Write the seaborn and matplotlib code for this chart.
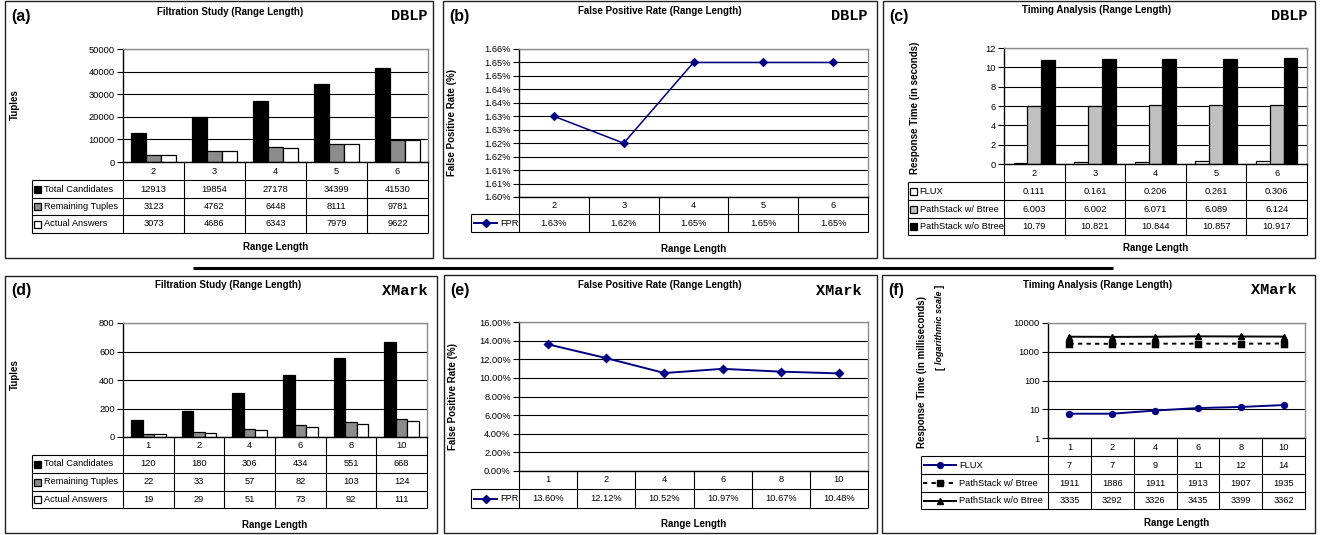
import numpy as np
import pandas as pd
import matplotlib
matplotlib.use("Agg")
import matplotlib.pyplot as plt
from matplotlib.patches import Rectangle
import seaborn as sns
from decimal import Decimal, ROUND_HALF_UP

plt.rcParams["font.family"] = ["Liberation Sans", "DejaVu Sans"]

# ---------------- data ----------------
dblp_lengths = ["2", "3", "4", "5", "6"]
xmark_lengths = ["1", "2", "4", "6", "8", "10"]

filter_series = ["Total Candidates", "Remaining Tuples", "Actual Answers"]
dblp_total = [12913, 19854, 27178, 34399, 41530]
dblp_remaining = [3123, 4762, 6448, 8111, 9781]
dblp_actual = [3073, 4686, 6343, 7979, 9622]

dblp_fpr = [1.63, 1.62, 1.65, 1.65, 1.65]

timing_series = ["FLUX", "PathStack w/ Btree", "PathStack w/o Btree"]
dblp_flux = [0.111, 0.161, 0.206, 0.261, 0.306]
dblp_ps_btree = [6.003, 6.002, 6.071, 6.089, 6.124]
dblp_ps_nobtree = [10.79, 10.821, 10.844, 10.857, 10.917]

xmark_total = [120, 180, 306, 434, 551, 668]
xmark_remaining = [22, 33, 57, 82, 103, 124]
xmark_actual = [19, 29, 51, 73, 92, 111]

xmark_fpr = [13.60, 12.12, 10.52, 10.97, 10.67, 10.48]

xmark_flux = [7, 7, 9, 11, 12, 14]
xmark_ps_btree = [1911, 1886, 1911, 1913, 1907, 1935]
xmark_ps_nobtree = [3335, 3292, 3326, 3435, 3399, 3362]

# ---------------- styling ----------------
W, H = 1320, 535
FS = 6.7          # tick / table text
FS_B = 7          # bold titles and axis labels
NAVY = "#000080"
filter_colors = ["#000000", "#8c8c8c", "#ffffff"]
timing_colors = ["#ffffff", "#c0c0c0", "#000000"]

fig = plt.figure(figsize=(W / 100, H / 100), dpi=100)
fig.patch.set_facecolor("white")


def px_axes(l, t, r, b):
    return fig.add_axes([l / W, 1 - b / H, (r - l) / W, (b - t) / H])


# full-figure overlay in pixel units for frames, tables and labels
ov = fig.add_axes([0, 0, 1, 1], zorder=10)
ov.set_xlim(0, W)
ov.set_ylim(H, 0)
ov.axis("off")
ov.patch.set_visible(False)


def long_frame(cats, names, values):
    rows = [(c, n, v) for n, vals in zip(names, values) for c, v in zip(cats, vals)]
    return pd.DataFrame(rows, columns=["length", "series", "value"])


def style_axes(ax, n, ylim, yticks, ylabels):
    ax.set_xlim(-0.5, n - 0.5)
    ax.set_ylim(*ylim)
    ax.set_yticks(yticks)
    ax.set_yticklabels(ylabels)
    ax.minorticks_off()
    ax.set_xlabel("")
    ax.set_ylabel("")
    ax.tick_params(axis="x", bottom=False, labelbottom=False)
    ax.tick_params(axis="y", direction="out", length=4, width=0.8, pad=2,
                   labelsize=FS, colors="black")
    ax.xaxis.grid(False)
    ax.yaxis.grid(True, color="black", linewidth=0.8)
    ax.set_axisbelow(True)
    ax.set_facecolor("white")
    for s in ("top", "right"):
        ax.spines[s].set_color("#8c8c8c")
        ax.spines[s].set_linewidth(1.0)
    for s in ("left", "bottom"):
        ax.spines[s].set_color("black")
        ax.spines[s].set_linewidth(1.0)


def box_key(color):
    def draw(x, y):
        ov.add_patch(Rectangle((x + 2, y - 3.5), 7, 7, facecolor=color,
                               edgecolor="black", lw=0.9))
    return draw, 11.5


def line_key(color, marker, ls, ms, length):
    def draw(x, y):
        ov.plot([x + 2, x + 2 + length], [y, y], color=color, lw=1.4, ls=ls,
                solid_capstyle="butt")
        ov.plot([x + 2 + length / 2], [y], marker=marker, color=color, ms=ms,
                ls="none")
    return draw, length + 4


def draw_table(pl, pr, tl, rows_y, cats, entries):
    n = len(cats)
    cw = (pr - pl) / n
    lc = dict(color="black", lw=0.8, solid_capstyle="butt")
    for i in range(n + 1):
        x = pl + i * cw
        ov.plot([x, x], [rows_y[0], rows_y[-1]], **lc)
    ov.plot([tl, tl], [rows_y[1], rows_y[-1]], **lc)
    for y in rows_y[1:]:
        ov.plot([tl, pr], [y, y], **lc)
    yh = (rows_y[0] + rows_y[1]) / 2
    for i, c in enumerate(cats):
        ov.text(pl + (i + 0.5) * cw, yh, c, ha="center", va="center", fontsize=FS)
    for r, ((key, off), label, vals) in enumerate(entries):
        yc = (rows_y[r + 1] + rows_y[r + 2]) / 2
        key(tl, yc)
        ov.text(tl + off, yc, label, ha="left", va="center", fontsize=FS)
        for i, v in enumerate(vals):
            ov.text(pl + (i + 0.5) * cw, yc, v, ha="center", va="center", fontsize=FS)


def panel_frame(l, t, r, b, letter, title, title_x, dataset, ds_x, xlabel_y,
                pl, pr, ylab, ylab_x, ylab_y, title_y, tag_y):
    ov.add_patch(Rectangle((l, t), r - l, b - t, fill=False, edgecolor="#222222", lw=1.0))
    ov.text(l + 6, tag_y, letter, ha="left", va="center", fontsize=11.5, weight="bold")
    ov.text(title_x, title_y, title, ha="center", va="center", fontsize=FS_B, weight="bold")
    ov.text(ds_x, tag_y, dataset, ha="right", va="center", fontsize=11,
            weight="bold", family="Liberation Mono")
    ov.text((pl + pr) / 2, xlabel_y, "Range Length", ha="center", va="center",
            fontsize=FS_B, weight="bold")
    if ylab is not None:
        ov.text(ylab_x, ylab_y, ylab, ha="center", va="center", rotation=90,
                fontsize=FS_B, weight="bold")


def pct2(v):
    return str(Decimal(repr(round(v, 4))).quantize(Decimal("0.01"), ROUND_HALF_UP)) + "%"


# ---------------- (a) DBLP filtration ----------------
ax = px_axes(123, 49, 428, 162)
df = long_frame(dblp_lengths, filter_series, [dblp_total, dblp_remaining, dblp_actual])
sns.barplot(df, x="length", y="value", hue="series", order=dblp_lengths,
            hue_order=filter_series, palette=dict(zip(filter_series, filter_colors)),
            edgecolor="black", linewidth=0.9, width=0.73, saturation=1,
            errorbar=None, legend=False, ax=ax)
ticks = list(range(0, 50001, 10000))
style_axes(ax, len(dblp_lengths), (0, 50000), ticks, [str(t) for t in ticks])
draw_table(123, 428, 32, [162, 180, 198, 215, 233], dblp_lengths,
           [(box_key(c), s, [str(v) for v in vals]) for c, s, vals in
            zip(filter_colors, filter_series, [dblp_total, dblp_remaining, dblp_actual])])
panel_frame(5, 1, 433, 258, "(a)", "Filtration Study (Range Length)", 230, "DBLP", 428,
            247, 123, 428, "Tuples", 15, 105, 12, 16)

# ---------------- (b) DBLP false positive rate ----------------
ax = px_axes(519, 49, 868, 197)
df = pd.DataFrame({"length": dblp_lengths, "fpr": dblp_fpr})
sns.pointplot(df, x="length", y="fpr", order=dblp_lengths, color=NAVY, markers="D",
              linestyles="-", errorbar=None, markersize=4.2, linewidth=1.1, ax=ax)
ticks = [1.600 + 0.005 * i for i in range(12)]
style_axes(ax, len(dblp_lengths), (1.600, 1.655), ticks, [pct2(t) for t in ticks])
draw_table(519, 868, 471, [197, 214, 232], dblp_lengths,
           [(line_key(NAVY, "D", "-", 4.2, 25), "FPR", [pct2(v) for v in dblp_fpr])])
panel_frame(443, 1, 877, 258, "(b)", "False Positive Rate (Range Length)", 660, "DBLP", 868,
            249, 519, 868, "False Positive Rate (%)", 452, 123, 11, 16)

# ---------------- (c) DBLP timing ----------------
ax = px_axes(1004, 48, 1307, 164)
df = long_frame(dblp_lengths, timing_series, [dblp_flux, dblp_ps_btree, dblp_ps_nobtree])
sns.barplot(df, x="length", y="value", hue="series", order=dblp_lengths,
            hue_order=timing_series, palette=dict(zip(timing_series, timing_colors)),
            edgecolor="black", linewidth=0.9, width=0.68, saturation=1,
            errorbar=None, legend=False, ax=ax)
ticks = list(range(0, 13, 2))
style_axes(ax, len(dblp_lengths), (0, 12), ticks, [str(t) for t in ticks])
draw_table(1004, 1307, 908, [164, 182, 200, 218, 235], dblp_lengths,
           [(box_key(c), s, [f"{v:g}" for v in vals]) for c, s, vals in
            zip(timing_colors, timing_series, [dblp_flux, dblp_ps_btree, dblp_ps_nobtree])])
panel_frame(883, 1, 1315, 258, "(c)", "Timing Analysis (Range Length)", 1097, "DBLP", 1307,
            248, 1004, 1307, "Response Time (in seconds)", 915, 108, 10, 16)

# ---------------- (d) XMark filtration ----------------
ax = px_axes(123, 323, 427, 437)
df = long_frame(xmark_lengths, filter_series, [xmark_total, xmark_remaining, xmark_actual])
sns.barplot(df, x="length", y="value", hue="series", order=xmark_lengths,
            hue_order=filter_series, palette=dict(zip(filter_series, filter_colors)),
            edgecolor="black", linewidth=0.9, width=0.68, saturation=1,
            errorbar=None, legend=False, ax=ax)
ticks = list(range(0, 801, 200))
style_axes(ax, len(xmark_lengths), (0, 800), ticks, [str(t) for t in ticks])
draw_table(123, 427, 32, [437, 455, 473, 491, 508], xmark_lengths,
           [(box_key(c), s, [str(v) for v in vals]) for c, s, vals in
            zip(filter_colors, filter_series, [xmark_total, xmark_remaining, xmark_actual])])
panel_frame(5, 276, 437, 533, "(d)", "Filtration Study (Range Length)", 228, "XMark", 428,
            525, 123, 427, "Tuples", 15, 375, 285, 291)

# ---------------- (e) XMark false positive rate ----------------
ax = px_axes(519, 322, 868, 471)
df = pd.DataFrame({"length": xmark_lengths, "fpr": xmark_fpr})
sns.pointplot(df, x="length", y="fpr", order=xmark_lengths, color=NAVY, markers="D",
              linestyles="-", errorbar=None, markersize=4.2, linewidth=1.4, ax=ax)
ticks = list(range(0, 17, 2))
style_axes(ax, len(xmark_lengths), (0, 16), ticks, [f"{t:.2f}%" for t in ticks])
draw_table(519, 868, 471, [471, 489, 508], xmark_lengths,
           [(line_key(NAVY, "D", "-", 4.2, 25), "FPR", [f"{v:.2f}%" for v in xmark_fpr])])
panel_frame(444, 275, 877, 533, "(e)", "False Positive Rate (Range Length)", 660, "XMark", 862,
            524, 519, 868, "False Positive Rate (%)", 453, 397, 285, 291)

# ---------------- (f) XMark timing (log scale) ----------------
ax = px_axes(1048, 323, 1305, 438)
ax.set_yscale("log")
timing_styles = [(NAVY, "o", "-", 4.2), ("black", "s", (0, (2.2, 2.2)), 3.8),
                 ("black", "^", "-", 4.5)]
for vals, (col, mk, ls, ms) in zip([xmark_flux, xmark_ps_btree, xmark_ps_nobtree], timing_styles):
    df = pd.DataFrame({"length": xmark_lengths, "ms": vals})
    sns.pointplot(df, x="length", y="ms", order=xmark_lengths, color=col, markers=mk,
                  linestyles=ls, errorbar=None, markersize=ms, linewidth=1.4, ax=ax)
ticks = [1, 10, 100, 1000, 10000]
style_axes(ax, len(xmark_lengths), (1, 10000), ticks, [str(t) for t in ticks])
draw_table(1048, 1305, 921, [438, 456, 474, 492, 509], xmark_lengths,
           [(line_key(col, mk, ls, ms, 34), s, [str(v) for v in vals])
            for (col, mk, ls, ms), s, vals in
            zip(timing_styles, timing_series, [xmark_flux, xmark_ps_btree, xmark_ps_nobtree])])
panel_frame(882, 275, 1315, 533, "(f)", "Timing Analysis (Range Length)", 1098, "XMark", 1297,
            523, 1048, 1305, None, 0, 0, 285, 290)
ov.text(922, 372, "Response Time (in milliseconds)", ha="center", va="center",
        rotation=90, fontsize=FS_B, weight="bold")
ov.text(940, 368, "[", ha="center", va="center", rotation=90, fontsize=FS_B, weight="bold")
ov.text(940, 327, "logarithmic scale", ha="center", va="center", rotation=90,
        fontsize=6.5, weight="bold", style="italic")
ov.text(940, 286, "]", ha="center", va="center", rotation=90, fontsize=FS_B, weight="bold")

# divider between the two rows of panels
ov.plot([193, 1113], [268, 268], color="black", lw=2.2, solid_capstyle="butt")

fig.savefig("out.png", dpi=100)
